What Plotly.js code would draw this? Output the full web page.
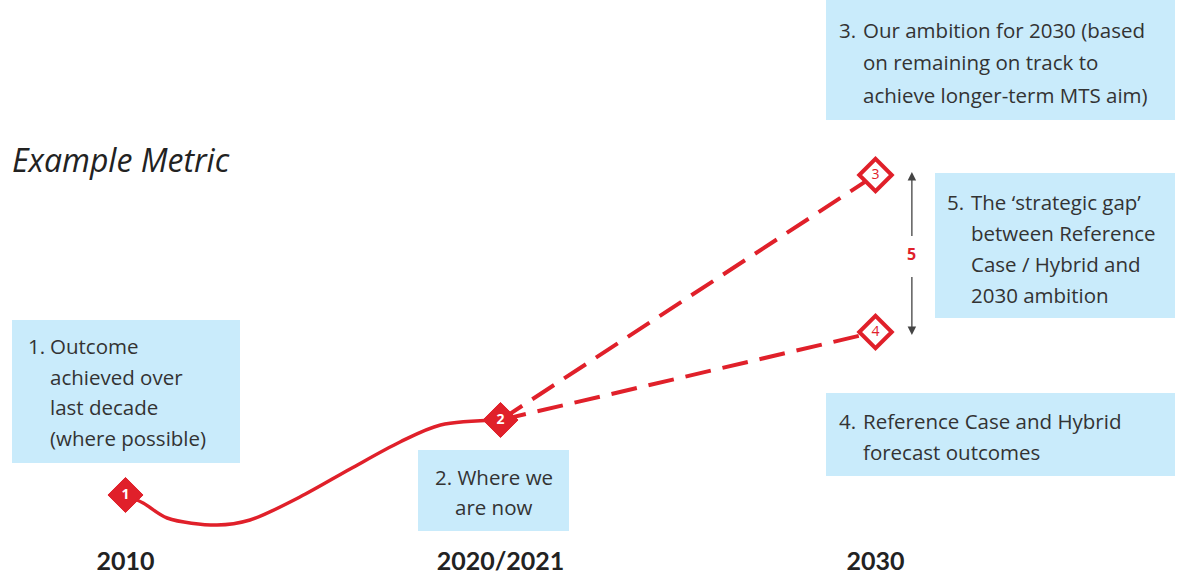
<!DOCTYPE html>
<html>
<head>
<meta charset="utf-8">
<script src="https://cdn.plot.ly/plotly-3.0.1.min.js"></script>
<style>html,body{margin:0;padding:0;background:#fff;}#chart{width:1187px;height:579px;}</style>
</head>
<body>
<div id="chart"></div>
<script>
// ---- data ----
const histYears  = [2010, 2010.47, 2011.11, 2012.44, 2013.32, 2014.65, 2015.99, 2017.32, 2018.4, 2020];
const histValues = [44, 36, 21, 14, 19, 42, 70, 97, 114, 119];
const nowYear = 2020, nowValue = 119;
const targetYear = 2030;
const ambitionValue = 364;
const forecastValue = 207;
const tickYears = [2010, 2020, 2030];
const tickLabels = ['2010', '2020/2021', '2030'];
const filledLabels = ['1', '2'];
const openLabels = ['3', '4'];
const gapLabel = '5';

// ---- style ----
const RED = '#e0202a';
const BOX = '#c9ebfb';
const TXT = '#333333';
const FONT = '"Open Sans", Lato, sans-serif';
const W = 1187, PH = 539;
const px = x => x / W;
const py = y => 1 - y / PH;

const traces = [
  {x: histYears, y: histValues, mode: 'lines', line: {color: RED, width: 3.5, shape: 'spline', smoothing: 0.9}, hoverinfo: 'skip'},
  {x: [nowYear, targetYear], y: [nowValue, ambitionValue], mode: 'lines', line: {color: RED, width: 4, dash: '26px,12px'}, hoverinfo: 'skip'},
  {x: [nowYear, targetYear], y: [nowValue, forecastValue], mode: 'lines', line: {color: RED, width: 4, dash: '26px,12px'}, hoverinfo: 'skip'},
  {x: [histYears[0], nowYear], y: [histValues[0], nowValue], mode: 'markers+text', text: filledLabels,
   textposition: 'middle center', textfont: {color: '#ffffff', size: 14, family: FONT, weight: 'bold'},
   marker: {symbol: 'diamond', size: 27, color: RED, line: {color: RED, width: 1}}, hoverinfo: 'skip'},
  {x: [targetYear, targetYear], y: [ambitionValue, forecastValue], mode: 'markers+text', text: openLabels,
   textposition: 'middle center', textfont: {color: RED, size: 14, family: FONT},
   marker: {symbol: 'diamond', size: 25, color: '#ffffff', line: {color: RED, width: 4}}, hoverinfo: 'skip'}
];

const shapes = [];
const annotations = [];
function box(x0, y0, x1, y1) {
  shapes.push({type: 'rect', xref: 'paper', yref: 'paper', x0: px(x0), x1: px(x1), y0: py(y1), y1: py(y0),
               fillcolor: BOX, line: {width: 0}, layer: 'below'});
}
function line(text, x, y, anchor) {
  annotations.push({text: text, xref: 'paper', yref: 'paper', x: px(x), y: py(y), xanchor: anchor || 'left', yanchor: 'middle',
                    showarrow: false, font: {family: FONT, size: 20.5, color: TXT}});
}

// Box 1
box(12, 320, 240, 463);
line('1.', 26, 346);
['Outcome', 'achieved over', 'last decade', '(where possible)'].forEach((t, i) => line(t, 48, 346 + i * 30.7));
// Box 2
box(418, 450, 569, 531);
line('2. Where we', 494, 477, 'center');
line('are now', 494, 507, 'center');
// Box 3
box(826, 0, 1175, 120);
line('3.', 837, 30);
['Our ambition for 2030 (based', 'on remaining on track to', 'achieve longer-term MTS aim)'].forEach((t, i) => line(t, 861, 30 + i * 32.5));
// Box 4
box(826, 393, 1175, 476);
line('4.', 837, 421);
['Reference Case and Hybrid', 'forecast outcomes'].forEach((t, i) => line(t, 861, 421 + i * 30.5));
// Box 5
box(935, 173, 1175, 318);
line('5.', 945, 202);
['The \u2018strategic gap\u2019', 'between Reference', 'Case / Hybrid and', '2030 ambition'].forEach((t, i) => line(t, 969, 202 + i * 31));

// Gap arrows
const gapX = 2030.97;
const gapMid = (ambitionValue + forecastValue) / 2;
annotations.push({text: gapLabel, x: gapX, y: ambitionValue + 3, ax: gapX, ay: gapMid, axref: 'x', ayref: 'y', xref: 'x', yref: 'y',
  showarrow: true, arrowhead: 2, arrowsize: 1.3, arrowwidth: 1.3, arrowcolor: '#444', borderpad: 6,
  font: {family: FONT, size: 16, color: RED, weight: 'bold'}});
annotations.push({text: '', x: gapX, y: forecastValue - 3, ax: gapX, ay: gapMid, axref: 'x', ayref: 'y', xref: 'x', yref: 'y',
  showarrow: true, arrowhead: 2, arrowsize: 1.3, arrowwidth: 1.3, arrowcolor: '#444', startstandoff: 22});

const x0 = 2010 - 125.5 / 37.5, x1 = 2010 + (W - 125.5) / 37.5;
const layout = {
  width: W, height: 579,
  margin: {l: 0, r: 0, t: 0, b: 40},
  paper_bgcolor: '#ffffff', plot_bgcolor: '#ffffff',
  showlegend: false, hovermode: false,
  title: {text: '<i>Example Metric</i>', font: {family: FONT, size: 32, color: '#222'},
          xref: 'container', yref: 'container', x: 12 / W, xanchor: 'left', y: 1 - 161 / 579, yanchor: 'middle'},
  xaxis: {range: [x0, x1], tickvals: tickYears, ticktext: tickLabels, showgrid: false, zeroline: false, showline: false,
          ticks: 'outside', ticklen: 0, tickcolor: 'rgba(0,0,0,0)',
          tickfont: {family: 'Lato, sans-serif', size: 25, color: '#222', weight: 'bold'},
          fixedrange: true},
  yaxis: {range: [0, PH], visible: false, fixedrange: true},
  shapes: shapes,
  annotations: annotations
};
Plotly.newPlot('chart', traces, layout, {displayModeBar: false, staticPlot: true});
</script>
</body>
</html>
